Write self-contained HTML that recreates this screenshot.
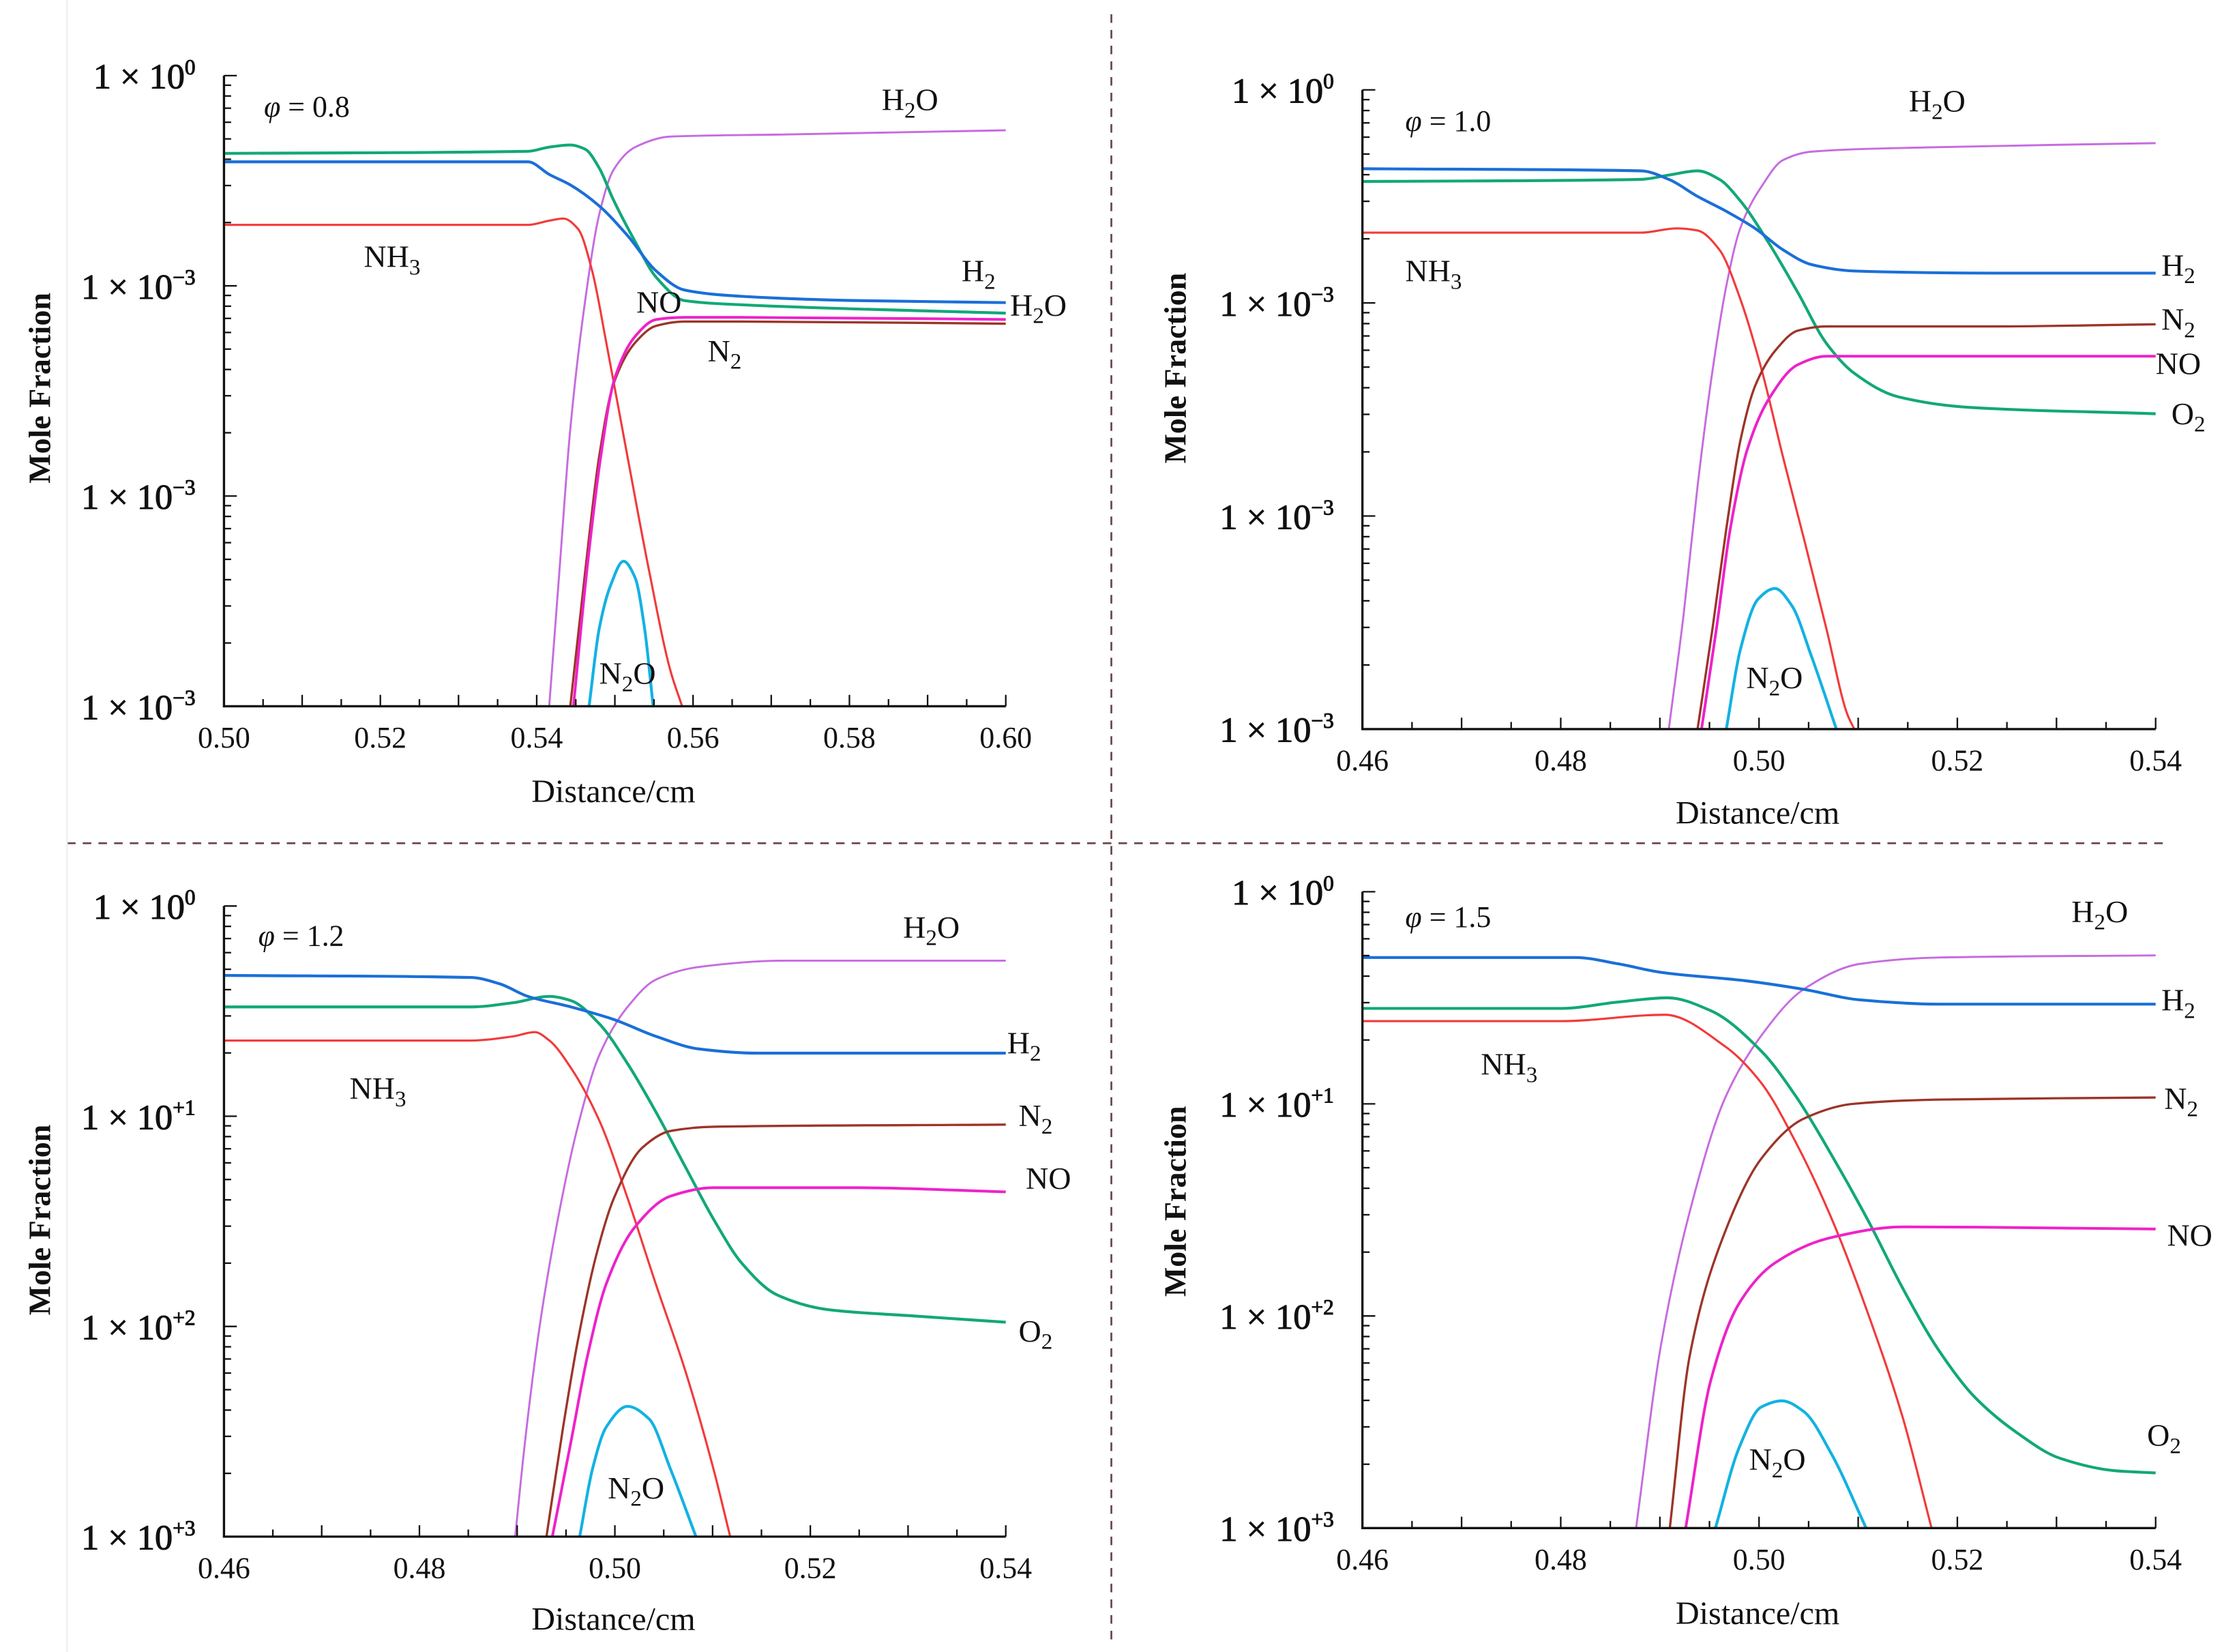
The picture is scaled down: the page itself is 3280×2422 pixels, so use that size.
<!DOCTYPE html>
<html><head><meta charset="utf-8"><style>
html,body{margin:0;padding:0;background:#fff}
svg{display:block}
text{font-family:"Liberation Serif",serif;fill:#111}
</style></head><body>
<svg id="chart" xmlns="http://www.w3.org/2000/svg" width="3280" height="2422" viewBox="0 0 3280 2422">
<rect width="3280" height="2422" fill="#fff"/>
<g id="root" transform="scale(2.0918)"></g>
</svg>
<script>
// ---------- data (x in cm, y = log10 decade offset from top tick) ----------
const xTicksA = [0.50,0.52,0.54,0.56,0.58,0.60];
const xTicksB = [0.46,0.48,0.50,0.52,0.54];
const yTickExpA = ["0","−3","−3","−3"];
const yTickExpB = ["0","+1","+2","+3"];
const seriesNames = ["H2O","O2","H2","NH3","N2","NO","N2O"];

// Panel 1 (phi = 0.8)
const p1_H2O_x=[0.5416,0.5429,0.5443,0.5462,0.5480,0.5498,0.5526,0.5571,0.5717,0.60];
const p1_H2O_y=[-3,-2.36,-1.68,-1.07,-0.66,-0.45,-0.34,-0.29,-0.28,-0.26];
const p1_O2_x=[0.50,0.5389,0.5416,0.5443,0.5462,0.5480,0.5498,0.5526,0.5553,0.5589,0.5662,0.60];
const p1_O2_y=[-0.37,-0.36,-0.34,-0.33,-0.35,-0.44,-0.59,-0.79,-0.96,-1.07,-1.09,-1.13];
const p1_H2_x=[0.50,0.5389,0.5416,0.5443,0.5480,0.5516,0.5553,0.5589,0.5662,0.5808,0.60];
const p1_H2_y=[-0.41,-0.41,-0.47,-0.52,-0.62,-0.76,-0.93,-1.02,-1.05,-1.07,-1.08];
const p1_NH3_x=[0.50,0.5389,0.5416,0.5434,0.5453,0.5471,0.5489,0.5516,0.5544,0.5571,0.5586];
const p1_NH3_y=[-0.71,-0.71,-0.69,-0.68,-0.73,-0.93,-1.27,-1.81,-2.36,-2.83,-3.0];
const p1_N2_x=[0.5443,0.5462,0.5480,0.5498,0.5526,0.5553,0.5589,0.5662,0.60];
const p1_N2_y=[-3,-2.36,-1.81,-1.47,-1.27,-1.19,-1.17,-1.17,-1.18];
const p1_NO_x=[0.5447,0.5464,0.5482,0.5499,0.5526,0.5553,0.5589,0.5662,0.60];
const p1_NO_y=[-3,-2.36,-1.81,-1.45,-1.24,-1.16,-1.15,-1.15,-1.16];
const p1_N2O_x=[0.5467,0.5480,0.5495,0.5511,0.5526,0.5538,0.5549];
const p1_N2O_y=[-3,-2.63,-2.42,-2.31,-2.39,-2.63,-3];

// Panel 2 (phi = 1.0)
const p2_H2O_x=[0.4909,0.4924,0.4938,0.4953,0.4967,0.4981,0.5003,0.5024,0.5053,0.5168,0.54];
const p2_H2O_y=[-3,-2.46,-1.86,-1.32,-0.92,-0.65,-0.45,-0.33,-0.29,-0.27,-0.25];
const p2_O2_x=[0.46,0.4881,0.4909,0.4938,0.4960,0.4981,0.5010,0.5039,0.5068,0.5096,0.5140,0.5212,0.54];
const p2_O2_y=[-0.43,-0.42,-0.40,-0.38,-0.42,-0.52,-0.72,-0.95,-1.19,-1.33,-1.44,-1.49,-1.52];
const p2_H2_x=[0.46,0.4881,0.4909,0.4938,0.4967,0.4996,0.5024,0.5053,0.5096,0.5240,0.54];
const p2_H2_y=[-0.37,-0.38,-0.42,-0.50,-0.57,-0.65,-0.75,-0.82,-0.85,-0.86,-0.86];
const p2_NH3_x=[0.46,0.4881,0.4917,0.4938,0.4960,0.4981,0.5003,0.5024,0.5046,0.5068,0.5089,0.5096];
const p2_NH3_y=[-0.67,-0.67,-0.65,-0.66,-0.75,-0.98,-1.32,-1.72,-2.12,-2.53,-2.93,-3];
const p2_N2_x=[0.4938,0.4953,0.4967,0.4981,0.4996,0.5017,0.5039,0.5068,0.5240,0.54];
const p2_N2_y=[-3,-2.53,-2.06,-1.65,-1.39,-1.22,-1.13,-1.11,-1.11,-1.10];
const p2_NO_x=[0.4942,0.4957,0.4971,0.4988,0.5010,0.5039,0.5068,0.5240,0.54];
const p2_NO_y=[-3,-2.53,-2.06,-1.69,-1.45,-1.29,-1.25,-1.25,-1.25];
const p2_N2O_x=[0.4967,0.4981,0.4999,0.5016,0.5033,0.5053,0.5078];
const p2_N2O_y=[-3,-2.63,-2.39,-2.34,-2.42,-2.66,-3];

// Panel 3 (phi = 1.2)
const p3_H2O_x=[0.4898,0.4908,0.4923,0.4940,0.4962,0.4984,0.5013,0.5042,0.5086,0.5174,0.54];
const p3_H2O_y=[-3,-2.55,-2.0,-1.53,-1.05,-0.71,-0.48,-0.35,-0.29,-0.26,-0.26];
const p3_O2_x=[0.46,0.4853,0.4896,0.4933,0.4955,0.4984,0.5013,0.5042,0.5072,0.5101,0.5130,0.5166,0.5218,0.5305,0.54];
const p3_O2_y=[-0.48,-0.48,-0.46,-0.43,-0.45,-0.56,-0.75,-0.98,-1.24,-1.49,-1.70,-1.85,-1.92,-1.95,-1.98];
const p3_H2_x=[0.46,0.4853,0.4882,0.4911,0.4955,0.4999,0.5042,0.5086,0.5145,0.54];
const p3_H2_y=[-0.33,-0.34,-0.37,-0.43,-0.48,-0.54,-0.62,-0.68,-0.70,-0.70];
const p3_NH3_x=[0.46,0.4853,0.4896,0.4918,0.4933,0.4955,0.4984,0.5013,0.5042,0.5072,0.5101,0.5118];
const p3_NH3_y=[-0.64,-0.64,-0.62,-0.60,-0.64,-0.77,-1.02,-1.39,-1.80,-2.21,-2.68,-3];
const p3_N2_x=[0.4930,0.4947,0.4962,0.4981,0.4999,0.5028,0.5057,0.5101,0.54];
const p3_N2_y=[-3,-2.48,-2.07,-1.66,-1.39,-1.15,-1.07,-1.05,-1.04];
const p3_NO_x=[0.4936,0.4955,0.4972,0.4991,0.5020,0.5057,0.5101,0.5247,0.54];
const p3_NO_y=[-3,-2.55,-2.14,-1.80,-1.53,-1.38,-1.34,-1.34,-1.36];
const p3_N2O_x=[0.4964,0.4977,0.4991,0.5013,0.5035,0.5057,0.5083];
const p3_N2O_y=[-3,-2.68,-2.48,-2.38,-2.44,-2.68,-3];

// Panel 4 (phi = 1.5)
const p4_H2O_x=[0.4876,0.4901,0.4930,0.4966,0.5002,0.5045,0.5102,0.5181,0.54];
const p4_H2O_y=[-3,-2.14,-1.51,-0.97,-0.68,-0.46,-0.34,-0.31,-0.30];
const p4_O2_x=[0.46,0.48,0.4858,0.4908,0.4951,0.5002,0.5038,0.5073,0.5110,0.5145,0.5181,0.5217,0.5260,0.5303,0.5360,0.54];
const p4_O2_y=[-0.55,-0.55,-0.52,-0.50,-0.56,-0.75,-0.97,-1.24,-1.55,-1.87,-2.16,-2.38,-2.55,-2.67,-2.73,-2.74];
const p4_H2_x=[0.46,0.4815,0.4858,0.4901,0.4987,0.5045,0.5102,0.5181,0.54];
const p4_H2_y=[-0.31,-0.31,-0.34,-0.38,-0.42,-0.46,-0.51,-0.53,-0.53];
const p4_NH3_x=[0.46,0.48,0.4905,0.4966,0.5002,0.5038,0.5074,0.5110,0.5145,0.5174];
const p4_NH3_y=[-0.61,-0.61,-0.58,-0.73,-0.90,-1.19,-1.55,-1.99,-2.48,-3];
const p4_N2_x=[0.4910,0.4930,0.4966,0.5002,0.5045,0.5095,0.5181,0.54];
const p4_N2_y=[-3,-2.19,-1.60,-1.26,-1.07,-1.00,-0.98,-0.97];
const p4_NO_x=[0.4926,0.4951,0.4980,0.5016,0.5073,0.5145,0.54];
const p4_NO_y=[-3,-2.31,-1.94,-1.75,-1.63,-1.58,-1.59];
const p4_N2O_x=[0.4956,0.4980,0.5002,0.5023,0.5045,0.5073,0.5108];
const p4_N2O_y=[-3,-2.62,-2.43,-2.40,-2.45,-2.65,-3];

// ---------- styling / layout (display units; root group scaled) ----------
const colors={H2O:"#c76be0",O2:"#12a878",H2:"#1a6fd8",NH3:"#f23a3a",N2:"#9c3428",NO:"#ee22c8",N2O:"#12b2e2"};
const widths={H2O:1.4,O2:2,H2:2,NH3:1.5,N2:1.6,NO:1.9,N2O:2};
const NS="http://www.w3.org/2000/svg";
const root=document.getElementById("root");

const panels=[
 {id:"p1",phi:"0.8",x0:157,x1:705,y0:53,y1:495,xmin:0.50,xmax:0.60,xt:xTicksA,exps:yTickExpA,
  data:{H2O:[p1_H2O_x,p1_H2O_y],O2:[p1_O2_x,p1_O2_y],H2:[p1_H2_x,p1_H2_y],NH3:[p1_NH3_x,p1_NH3_y],N2:[p1_N2_x,p1_N2_y],NO:[p1_NO_x,p1_NO_y],N2O:[p1_N2O_x,p1_N2O_y]},
  phiPos:[185,77],ylab:[30,272],xlab:[430,557],
  labels:[["H2O",620,72],["NH3",257,182],["H2",676,192],["H2O",710,216],["NO",448,214],["N2",498,248],["N2O",422,474]]},
 {id:"p2",phi:"1.0",x0:955,x1:1511,y0:63,y1:511,xmin:0.46,xmax:0.54,xt:xTicksB,exps:yTickExpA,
  data:{H2O:[p2_H2O_x,p2_H2O_y],O2:[p2_O2_x,p2_O2_y],H2:[p2_H2_x,p2_H2_y],NH3:[p2_NH3_x,p2_NH3_y],N2:[p2_N2_x,p2_N2_y],NO:[p2_NO_x,p2_NO_y],N2O:[p2_N2O_x,p2_N2O_y]},
  phiPos:[985,87],ylab:[826,258],xlab:[1232,572],
  labels:[["H2O",1340,73],["NH3",987,192],["H2",1517,188],["N2",1517,226],["NO",1513,257],["O2",1524,292],["N2O",1226,477]]},
 {id:"p3",phi:"1.2",x0:157,x1:705,y0:635,y1:1077,xmin:0.46,xmax:0.54,xt:xTicksB,exps:yTickExpB,
  data:{H2O:[p3_H2O_x,p3_H2O_y],O2:[p3_O2_x,p3_O2_y],H2:[p3_H2_x,p3_H2_y],NH3:[p3_NH3_x,p3_NH3_y],N2:[p3_N2_x,p3_N2_y],NO:[p3_NO_x,p3_NO_y],N2O:[p3_N2O_x,p3_N2O_y]},
  phiPos:[181,658],ylab:[30,855],xlab:[430,1137],
  labels:[["H2O",635,652],["NH3",247,765],["H2",708,733],["N2",716,784],["NO",721,828],["O2",716,935],["N2O",428,1045]]},
 {id:"p4",phi:"1.5",x0:955,x1:1511,y0:625,y1:1071,xmin:0.46,xmax:0.54,xt:xTicksB,exps:yTickExpB,
  data:{H2O:[p4_H2O_x,p4_H2O_y],O2:[p4_O2_x,p4_O2_y],H2:[p4_H2_x,p4_H2_y],NH3:[p4_NH3_x,p4_NH3_y],N2:[p4_N2_x,p4_N2_y],NO:[p4_NO_x,p4_NO_y],N2O:[p4_N2O_x,p4_N2O_y]},
  phiPos:[985,645],ylab:[826,842],xlab:[1232,1133],
  labels:[["H2O",1454,641],["NH3",1040,748],["H2",1517,703],["N2",1519,772],["NO",1521,868],["O2",1507,1008],["N2O",1228,1025]]}
];

function el(tag,attrs,parent){const e=document.createElementNS(NS,tag);for(const k in attrs)e.setAttribute(k,attrs[k]);(parent||root).appendChild(e);return e;}
// monotone cubic (Fritsch-Carlson) through points sorted by x
function smooth(pts){
  const n=pts.length;
  if(n<2) return "";
  const dx=[],dy=[],m=[];
  for(let i=0;i<n-1;i++){dx.push(pts[i+1][0]-pts[i][0]);dy.push(pts[i+1][1]-pts[i][1]);m.push(dy[i]/dx[i]);}
  const t=new Array(n);
  t[0]=m[0];t[n-1]=m[n-2];
  for(let i=1;i<n-1;i++){
    if(m[i-1]*m[i]<=0) t[i]=0;
    else{const w1=2*dx[i]+dx[i-1],w2=dx[i]+2*dx[i-1];t[i]=(w1+w2)/(w1/m[i-1]+w2/m[i]);}
  }
  let d="M"+pts[0][0].toFixed(2)+","+pts[0][1].toFixed(2);
  for(let i=0;i<n-1;i++){
    const h=dx[i]/3;
    d+=" C"+(pts[i][0]+h).toFixed(2)+","+(pts[i][1]+t[i]*h).toFixed(2)+" "+(pts[i+1][0]-h).toFixed(2)+","+(pts[i+1][1]-t[i+1]*h).toFixed(2)+" "+pts[i+1][0].toFixed(2)+","+pts[i+1][1].toFixed(2);
  }
  return d;
}
function chemText(g,str,x,y,size,name){
  const t=el("text",{x:x,y:y,"font-size":size,"dominant-baseline":"middle"},g);
  
  
  const re=/([A-Za-z]+)(\d*)/g;let mm;
  while((mm=re.exec(str))){
    const a=el("tspan",{},t);a.textContent=mm[1];
    if(mm[2]){const b=el("tspan",{dy:size*0.3,"font-size":size*0.72},t);b.textContent=mm[2];
      const c=el("tspan",{dy:-size*0.3},t);c.textContent="\u200B";}
  }
  return t;
}

// dividers
const dv=el("line",{x1:779,y1:10,x2:779,y2:1152,stroke:"#6a4848","stroke-width":1.3,"stroke-dasharray":"6,5"});


const dh=el("line",{x1:47,y1:591,x2:1520,y2:591,stroke:"#6a4848","stroke-width":1.3,"stroke-dasharray":"6,5"});


const lb=el("line",{x1:47,y1:0,x2:47,y2:1158,stroke:"#eeeeee","stroke-width":1});



panels.forEach(P=>{
  const g=el("g",{});
  
  
  const dec=(P.y1-P.y0)/3;
  const sx=v=>P.x0+(v-P.xmin)/(P.xmax-P.xmin)*(P.x1-P.x0);
  const sy=v=>P.y0-v*dec;
  const cp=el("clipPath",{id:"clip-"+P.id},g);
  el("rect",{x:P.x0,y:P.y0-40,width:P.x1-P.x0+3,height:P.y1-P.y0+40},cp);
  const sg=el("g",{"clip-path":"url(#clip-"+P.id+")"},g);
  
  
  seriesNames.forEach(n=>{
    const xs=P.data[n][0],ys=P.data[n][1];
    const pts=xs.map((x,i)=>[sx(x),sy(ys[i])]);
    const path=el("path",{d:smooth(pts),fill:"none",stroke:colors[n],"stroke-width":widths[n],"stroke-linejoin":"round"},sg);
    
    
  });
  const ax=el("path",{d:`M${P.x0},${P.y0} L${P.x0},${P.y1} L${P.x1},${P.y1}`,fill:"none",stroke:"#111","stroke-width":1.6},g);
  
  
  for(let d=0;d<3;d++){
    for(let k=1;k<10;k++){
      const yy=P.y1-(d*dec)-Math.log10(k)*dec;
      const len=k===1?9:5;
      el("line",{x1:P.x0,y1:yy,x2:P.x0+len,y2:yy,stroke:"#111","stroke-width":1.1},g);
    }
  }
  el("line",{x1:P.x0,y1:P.y0,x2:P.x0+9,y2:P.y0,stroke:"#111","stroke-width":1.1},g);
  P.exps.forEach((e,i)=>{
    const yy=P.y0+i*dec;
    const t=el("text",{x:P.x0-20,y:yy+9,"font-size":25,"text-anchor":"end","stroke":"#111","stroke-width":0.5},g);
    
    
    const a=el("tspan",{},t);a.textContent="1 × 10";
    const b=el("tspan",{dy:-10,"font-size":15},t);b.textContent=e;
  });
  const step=0.005;
  const n=Math.round((P.xmax-P.xmin)/step);
  for(let i=0;i<=n;i++){
    const xx=sx(P.xmin+i*step);
    el("line",{x1:xx,y1:P.y1,x2:xx,y2:P.y1-(i%2===0?8:5),stroke:"#111","stroke-width":1.1},g);
  }
  P.xt.forEach(v=>{
    const t=el("text",{x:sx(v),y:P.y1+29,"font-size":21,"text-anchor":"middle"},g);
    
    
    t.textContent=v.toFixed(2);
  });
  const yl=el("text",{x:P.ylab[0],y:P.ylab[1],"font-size":22,"font-weight":"bold","text-anchor":"middle","dominant-baseline":"middle",transform:`rotate(-90 ${P.ylab[0]} ${P.ylab[1]})`},g);
  
  
  yl.textContent="Mole Fraction";
  const xl=el("text",{x:P.xlab[0],y:P.xlab[1],"font-size":23,"text-anchor":"middle","dominant-baseline":"middle"},g);
  
  
  xl.textContent="Distance/cm";
  const ph=el("text",{x:P.phiPos[0],y:P.phiPos[1],"font-size":21,"dominant-baseline":"middle"},g);
  
  
  const pa=el("tspan",{"font-style":"italic"},ph);pa.textContent="φ";
  const pb=el("tspan",{},ph);pb.textContent=" = "+P.phi;
  P.labels.forEach(L=>chemText(g,L[0],L[1]-2,L[2],22,'species-label-'+L[0].toLowerCase()));
});
</script>
</body></html>
